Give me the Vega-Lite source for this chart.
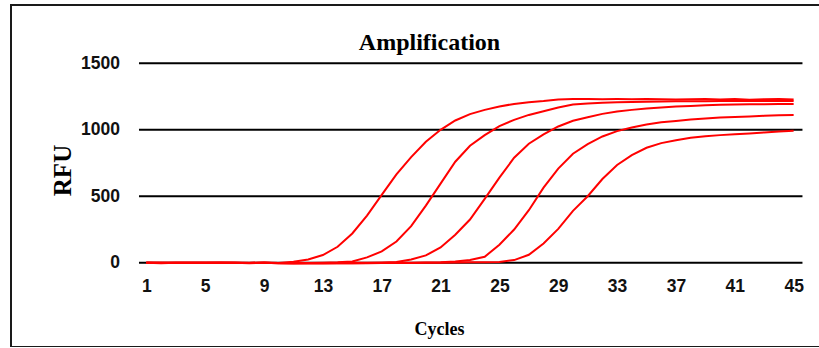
{
  "$schema": "https://vega.github.io/schema/vega-lite/v6.json",
  "width": 815,
  "height": 342,
  "autosize": {"type": "none"},
  "padding": {"left": 11, "top": 5, "right": 0, "bottom": 0},
  "background": "white",
  "config": {"view": {"stroke": "#1a1a1a", "strokeWidth": 2}},
  "title": {
    "text": "Amplification",
    "font": "Liberation Serif",
    "fontWeight": "bold",
    "fontSize": 24,
    "color": "#000000",
    "anchor": "middle",
    "dx": 11,
    "offset": -69,
    "baseline": "alphabetic"
  },
  "datasets": {
    "grid": [{"rfu": 0}, {"rfu": 500}, {"rfu": 1000}, {"rfu": 1500}],
    "curves": [
      {"well": "A", "cycle": 1, "rfu": 0}, {"well": "A", "cycle": 2, "rfu": -3}, {"well": "A", "cycle": 3, "rfu": 0}, {"well": "A", "cycle": 4, "rfu": 0}, {"well": "A", "cycle": 5, "rfu": 0},
      {"well": "A", "cycle": 6, "rfu": 0}, {"well": "A", "cycle": 7, "rfu": 0}, {"well": "A", "cycle": 8, "rfu": -3}, {"well": "A", "cycle": 9, "rfu": 0}, {"well": "A", "cycle": 10, "rfu": -2},
      {"well": "A", "cycle": 11, "rfu": 8}, {"well": "A", "cycle": 12, "rfu": 25}, {"well": "A", "cycle": 13, "rfu": 58}, {"well": "A", "cycle": 14, "rfu": 120}, {"well": "A", "cycle": 15, "rfu": 220},
      {"well": "A", "cycle": 16, "rfu": 355}, {"well": "A", "cycle": 17, "rfu": 510}, {"well": "A", "cycle": 18, "rfu": 665}, {"well": "A", "cycle": 19, "rfu": 795}, {"well": "A", "cycle": 20, "rfu": 910},
      {"well": "A", "cycle": 21, "rfu": 1000}, {"well": "A", "cycle": 22, "rfu": 1070}, {"well": "A", "cycle": 23, "rfu": 1118}, {"well": "A", "cycle": 24, "rfu": 1150}, {"well": "A", "cycle": 25, "rfu": 1175},
      {"well": "A", "cycle": 26, "rfu": 1195}, {"well": "A", "cycle": 27, "rfu": 1208}, {"well": "A", "cycle": 28, "rfu": 1216}, {"well": "A", "cycle": 29, "rfu": 1228}, {"well": "A", "cycle": 30, "rfu": 1231},
      {"well": "A", "cycle": 31, "rfu": 1231}, {"well": "A", "cycle": 32, "rfu": 1230}, {"well": "A", "cycle": 33, "rfu": 1231}, {"well": "A", "cycle": 34, "rfu": 1230}, {"well": "A", "cycle": 35, "rfu": 1232},
      {"well": "A", "cycle": 36, "rfu": 1230}, {"well": "A", "cycle": 37, "rfu": 1228}, {"well": "A", "cycle": 38, "rfu": 1230}, {"well": "A", "cycle": 39, "rfu": 1232}, {"well": "A", "cycle": 40, "rfu": 1228},
      {"well": "A", "cycle": 41, "rfu": 1232}, {"well": "A", "cycle": 42, "rfu": 1226}, {"well": "A", "cycle": 43, "rfu": 1230}, {"well": "A", "cycle": 44, "rfu": 1232}, {"well": "A", "cycle": 45, "rfu": 1228},

      {"well": "B", "cycle": 1, "rfu": 0}, {"well": "B", "cycle": 2, "rfu": -2}, {"well": "B", "cycle": 3, "rfu": 0}, {"well": "B", "cycle": 4, "rfu": 0}, {"well": "B", "cycle": 5, "rfu": 0},
      {"well": "B", "cycle": 6, "rfu": 0}, {"well": "B", "cycle": 7, "rfu": 0}, {"well": "B", "cycle": 8, "rfu": -2}, {"well": "B", "cycle": 9, "rfu": 0}, {"well": "B", "cycle": 10, "rfu": -3},
      {"well": "B", "cycle": 11, "rfu": -3}, {"well": "B", "cycle": 12, "rfu": -2}, {"well": "B", "cycle": 13, "rfu": 0}, {"well": "B", "cycle": 14, "rfu": 3}, {"well": "B", "cycle": 15, "rfu": 10},
      {"well": "B", "cycle": 16, "rfu": 40}, {"well": "B", "cycle": 17, "rfu": 85}, {"well": "B", "cycle": 18, "rfu": 160}, {"well": "B", "cycle": 19, "rfu": 275}, {"well": "B", "cycle": 20, "rfu": 430},
      {"well": "B", "cycle": 21, "rfu": 595}, {"well": "B", "cycle": 22, "rfu": 760}, {"well": "B", "cycle": 23, "rfu": 880}, {"well": "B", "cycle": 24, "rfu": 960}, {"well": "B", "cycle": 25, "rfu": 1028},
      {"well": "B", "cycle": 26, "rfu": 1075}, {"well": "B", "cycle": 27, "rfu": 1112}, {"well": "B", "cycle": 28, "rfu": 1140}, {"well": "B", "cycle": 29, "rfu": 1168}, {"well": "B", "cycle": 30, "rfu": 1190},
      {"well": "B", "cycle": 31, "rfu": 1198}, {"well": "B", "cycle": 32, "rfu": 1203}, {"well": "B", "cycle": 33, "rfu": 1207}, {"well": "B", "cycle": 34, "rfu": 1210}, {"well": "B", "cycle": 35, "rfu": 1212},
      {"well": "B", "cycle": 36, "rfu": 1213}, {"well": "B", "cycle": 37, "rfu": 1214}, {"well": "B", "cycle": 38, "rfu": 1215}, {"well": "B", "cycle": 39, "rfu": 1215}, {"well": "B", "cycle": 40, "rfu": 1216},
      {"well": "B", "cycle": 41, "rfu": 1216}, {"well": "B", "cycle": 42, "rfu": 1217}, {"well": "B", "cycle": 43, "rfu": 1216}, {"well": "B", "cycle": 44, "rfu": 1217}, {"well": "B", "cycle": 45, "rfu": 1216},

      {"well": "C", "cycle": 1, "rfu": 0}, {"well": "C", "cycle": 2, "rfu": 0}, {"well": "C", "cycle": 3, "rfu": -2}, {"well": "C", "cycle": 4, "rfu": 0}, {"well": "C", "cycle": 5, "rfu": 0},
      {"well": "C", "cycle": 6, "rfu": 0}, {"well": "C", "cycle": 7, "rfu": -2}, {"well": "C", "cycle": 8, "rfu": 0}, {"well": "C", "cycle": 9, "rfu": 0}, {"well": "C", "cycle": 10, "rfu": -3},
      {"well": "C", "cycle": 11, "rfu": -3}, {"well": "C", "cycle": 12, "rfu": -4}, {"well": "C", "cycle": 13, "rfu": -3}, {"well": "C", "cycle": 14, "rfu": -2}, {"well": "C", "cycle": 15, "rfu": 0},
      {"well": "C", "cycle": 16, "rfu": 0}, {"well": "C", "cycle": 17, "rfu": 2}, {"well": "C", "cycle": 18, "rfu": 6}, {"well": "C", "cycle": 19, "rfu": 25}, {"well": "C", "cycle": 20, "rfu": 55},
      {"well": "C", "cycle": 21, "rfu": 115}, {"well": "C", "cycle": 22, "rfu": 210}, {"well": "C", "cycle": 23, "rfu": 325}, {"well": "C", "cycle": 24, "rfu": 480}, {"well": "C", "cycle": 25, "rfu": 640},
      {"well": "C", "cycle": 26, "rfu": 790}, {"well": "C", "cycle": 27, "rfu": 895}, {"well": "C", "cycle": 28, "rfu": 965}, {"well": "C", "cycle": 29, "rfu": 1025}, {"well": "C", "cycle": 30, "rfu": 1068},
      {"well": "C", "cycle": 31, "rfu": 1095}, {"well": "C", "cycle": 32, "rfu": 1120}, {"well": "C", "cycle": 33, "rfu": 1138}, {"well": "C", "cycle": 34, "rfu": 1150}, {"well": "C", "cycle": 35, "rfu": 1160},
      {"well": "C", "cycle": 36, "rfu": 1167}, {"well": "C", "cycle": 37, "rfu": 1175}, {"well": "C", "cycle": 38, "rfu": 1180}, {"well": "C", "cycle": 39, "rfu": 1185}, {"well": "C", "cycle": 40, "rfu": 1188},
      {"well": "C", "cycle": 41, "rfu": 1190}, {"well": "C", "cycle": 42, "rfu": 1192}, {"well": "C", "cycle": 43, "rfu": 1193}, {"well": "C", "cycle": 44, "rfu": 1194}, {"well": "C", "cycle": 45, "rfu": 1195},

      {"well": "D", "cycle": 1, "rfu": 0}, {"well": "D", "cycle": 2, "rfu": 0}, {"well": "D", "cycle": 3, "rfu": 0}, {"well": "D", "cycle": 4, "rfu": -2}, {"well": "D", "cycle": 5, "rfu": 0},
      {"well": "D", "cycle": 6, "rfu": 0}, {"well": "D", "cycle": 7, "rfu": 0}, {"well": "D", "cycle": 8, "rfu": -2}, {"well": "D", "cycle": 9, "rfu": 0}, {"well": "D", "cycle": 10, "rfu": -2},
      {"well": "D", "cycle": 11, "rfu": -3}, {"well": "D", "cycle": 12, "rfu": -4}, {"well": "D", "cycle": 13, "rfu": -4}, {"well": "D", "cycle": 14, "rfu": -3}, {"well": "D", "cycle": 15, "rfu": -3},
      {"well": "D", "cycle": 16, "rfu": -2}, {"well": "D", "cycle": 17, "rfu": -2}, {"well": "D", "cycle": 18, "rfu": 0}, {"well": "D", "cycle": 19, "rfu": 0}, {"well": "D", "cycle": 20, "rfu": 2},
      {"well": "D", "cycle": 21, "rfu": 4}, {"well": "D", "cycle": 22, "rfu": 10}, {"well": "D", "cycle": 23, "rfu": 20}, {"well": "D", "cycle": 24, "rfu": 45}, {"well": "D", "cycle": 25, "rfu": 135},
      {"well": "D", "cycle": 26, "rfu": 250}, {"well": "D", "cycle": 27, "rfu": 395}, {"well": "D", "cycle": 28, "rfu": 565}, {"well": "D", "cycle": 29, "rfu": 708}, {"well": "D", "cycle": 30, "rfu": 820},
      {"well": "D", "cycle": 31, "rfu": 892}, {"well": "D", "cycle": 32, "rfu": 950}, {"well": "D", "cycle": 33, "rfu": 990}, {"well": "D", "cycle": 34, "rfu": 1018}, {"well": "D", "cycle": 35, "rfu": 1040},
      {"well": "D", "cycle": 36, "rfu": 1056}, {"well": "D", "cycle": 37, "rfu": 1067}, {"well": "D", "cycle": 38, "rfu": 1078}, {"well": "D", "cycle": 39, "rfu": 1086}, {"well": "D", "cycle": 40, "rfu": 1092},
      {"well": "D", "cycle": 41, "rfu": 1097}, {"well": "D", "cycle": 42, "rfu": 1100}, {"well": "D", "cycle": 43, "rfu": 1105}, {"well": "D", "cycle": 44, "rfu": 1110}, {"well": "D", "cycle": 45, "rfu": 1111},

      {"well": "E", "cycle": 1, "rfu": 0}, {"well": "E", "cycle": 2, "rfu": 0}, {"well": "E", "cycle": 3, "rfu": 0}, {"well": "E", "cycle": 4, "rfu": 0}, {"well": "E", "cycle": 5, "rfu": -2},
      {"well": "E", "cycle": 6, "rfu": 0}, {"well": "E", "cycle": 7, "rfu": 0}, {"well": "E", "cycle": 8, "rfu": -2}, {"well": "E", "cycle": 9, "rfu": 0}, {"well": "E", "cycle": 10, "rfu": -2},
      {"well": "E", "cycle": 11, "rfu": -3}, {"well": "E", "cycle": 12, "rfu": -4}, {"well": "E", "cycle": 13, "rfu": -4}, {"well": "E", "cycle": 14, "rfu": -4}, {"well": "E", "cycle": 15, "rfu": -3},
      {"well": "E", "cycle": 16, "rfu": -3}, {"well": "E", "cycle": 17, "rfu": -2}, {"well": "E", "cycle": 18, "rfu": -2}, {"well": "E", "cycle": 19, "rfu": -2}, {"well": "E", "cycle": 20, "rfu": 0},
      {"well": "E", "cycle": 21, "rfu": 0}, {"well": "E", "cycle": 22, "rfu": 2}, {"well": "E", "cycle": 23, "rfu": 3}, {"well": "E", "cycle": 24, "rfu": 4}, {"well": "E", "cycle": 25, "rfu": 6},
      {"well": "E", "cycle": 26, "rfu": 20}, {"well": "E", "cycle": 27, "rfu": 60}, {"well": "E", "cycle": 28, "rfu": 145}, {"well": "E", "cycle": 29, "rfu": 255}, {"well": "E", "cycle": 30, "rfu": 390},
      {"well": "E", "cycle": 31, "rfu": 500}, {"well": "E", "cycle": 32, "rfu": 630}, {"well": "E", "cycle": 33, "rfu": 735}, {"well": "E", "cycle": 34, "rfu": 810}, {"well": "E", "cycle": 35, "rfu": 865},
      {"well": "E", "cycle": 36, "rfu": 900}, {"well": "E", "cycle": 37, "rfu": 922}, {"well": "E", "cycle": 38, "rfu": 940}, {"well": "E", "cycle": 39, "rfu": 952}, {"well": "E", "cycle": 40, "rfu": 960},
      {"well": "E", "cycle": 41, "rfu": 966}, {"well": "E", "cycle": 42, "rfu": 973}, {"well": "E", "cycle": 43, "rfu": 980}, {"well": "E", "cycle": 44, "rfu": 988}, {"well": "E", "cycle": 45, "rfu": 993}
    ]
  },
  "layer": [
    {
      "data": {"name": "grid"},
      "mark": {"type": "rule", "color": "#000000", "strokeWidth": 2},
      "encoding": {
        "y": {
          "field": "rfu",
          "type": "quantitative",
          "scale": {"domain": [-634, 1939], "nice": false, "zero": false},
          "axis": {
            "title": "RFU",
            "values": [0, 500, 1000, 1500],
            "format": "d",
            "domain": false,
            "ticks": false,
            "tickSize": 0,
            "grid": false,
            "offset": -128,
            "labelPadding": 19.5,
            "labelAlign": "right",
            "labelBaseline": "middle",
            "labelFont": "Liberation Sans",
            "labelFontWeight": "bold",
            "labelFontSize": 17.5,
            "labelColor": "#111111",
            "labelFlush": false,
            "labelOverlap": false,
            "titleFont": "Liberation Serif",
            "titleFontWeight": "bold",
            "titleFontSize": 25,
            "titleColor": "#000000",
            "titleAngle": -90,
            "titleX": -68.3,
            "titleY": 165,
            "titleAlign": "center",
            "titleBaseline": "alphabetic"
          }
        },
        "x": {
          "datum": 0.5,
          "type": "quantitative",
          "scale": {"domain": [-8.2, 47.2], "nice": false, "zero": false},
          "axis": {
            "title": "Cycles",
            "values": [1, 5, 9, 13, 17, 21, 25, 29, 33, 37, 41, 45],
            "format": "d",
            "domain": false,
            "ticks": false,
            "tickSize": 0,
            "grid": false,
            "offset": -84.3,
            "labelPadding": 29,
            "labelBaseline": "alphabetic",
            "labelFont": "Liberation Sans",
            "labelFontWeight": "bold",
            "labelFontSize": 17.5,
            "labelColor": "#111111",
            "labelFlush": false,
            "labelOverlap": false,
            "titleFont": "Liberation Serif",
            "titleFontWeight": "bold",
            "titleFontSize": 18,
            "titleColor": "#000000",
            "titleX": 428,
            "titleY": 71.8,
            "titleAlign": "center",
            "titleBaseline": "alphabetic"
          }
        },
        "x2": {"datum": 45.6}
      }
    },
    {
      "data": {"name": "curves"},
      "mark": {"type": "line", "color": "#ff0000", "strokeWidth": 2},
      "encoding": {
        "x": {"field": "cycle", "type": "quantitative"},
        "y": {"field": "rfu", "type": "quantitative"},
        "detail": {"field": "well", "type": "nominal"}
      }
    }
  ]
}
